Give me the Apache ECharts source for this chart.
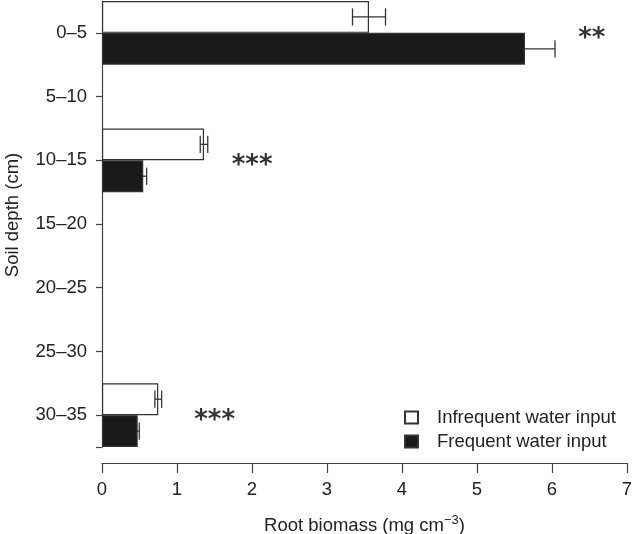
<!DOCTYPE html>
<html>
<head>
<meta charset="utf-8">
<script src="https://cdn.jsdelivr.net/npm/echarts@6/dist/echarts.min.js"></script>
<style>html,body{margin:0;padding:0;background:#fff}#c{width:633px;height:534px}</style>
</head>
<body>
<div id="c"></div>
<script>
var categories = ['0\u20135', '5\u201310', '10\u201315', '15\u201320', '20\u201325', '25\u201330', '30\u201335'];
var infrequent = [3.56, null, 1.36, null, null, null, 0.75];
var infrequentErr = [0.22, null, 0.05, null, null, null, 0.045];
var frequent = [5.64, null, 0.55, null, null, null, 0.476];
var frequentErr = [0.40, null, 0.045, null, null, null, 0.021];
var sigLabels = ['**', null, '***', null, null, null, '***'];
var sigX = [6.35, null, 1.73, null, null, null, 1.23];
var xTicks = [0, 1, 2, 3, 4, 5, 6, 7];

var FONT = 'Liberation Sans';
var FS = 18.5;
var AX = '#444';
var TXT = '#222';

function errData(vals, errs) {
  var out = [];
  vals.forEach(function (v, i) { if (v != null) out.push([v, i, errs[i]]); });
  return out;
}
function errRender(side) {
  return function (params, api) {
    var v = api.value(0), ci = api.value(1), e = api.value(2);
    var band = api.size([0, 1])[1];
    var c = api.coord([v, ci]);
    var y = c[1] + side * band / 4;
    var x1 = api.coord([v - e, ci])[0];
    var x2 = api.coord([v + e, ci])[0];
    var h = band * 0.135;
    var st = { stroke: '#333', lineWidth: 1.3 };
    return { type: 'group', children: [
      { type: 'line', shape: { x1: x1, y1: y, x2: x2, y2: y }, style: st },
      { type: 'line', shape: { x1: x1, y1: y - h, x2: x1, y2: y + h }, style: st },
      { type: 'line', shape: { x1: x2, y1: y - h, x2: x2, y2: y + h }, style: st }
    ]};
  };
}
var sigData = [];
sigLabels.forEach(function (s, i) { if (s) sigData.push({ value: [sigX[i], i], name: s }); });

var chart = echarts.init(document.getElementById('c'), null, { renderer: 'canvas' });
chart.setOption({
  animation: false,
  backgroundColor: '#fff',
  textStyle: { fontFamily: FONT },
  grid: { left: 102, right: 6, top: 1, bottom: 87, containLabel: false, outerBoundsMode: 'none' },
  legend: {
    orient: 'vertical', left: 399, top: 403, itemWidth: 13, itemHeight: 12, itemGap: 5,
    icon: 'rect',
    textStyle: { fontFamily: FONT, fontSize: FS, color: TXT, padding: [0, 0, 0, 14] },
    data: ['Infrequent water input', 'Frequent water input']
  },
  xAxis: {
    type: 'value', min: 0, max: 7, interval: 1, offset: 16,
    axisLine: { show: true, onZero: false, lineStyle: { color: AX, width: 1.2 } },
    axisTick: { show: true, length: 10, lineStyle: { color: AX, width: 1.2 } },
    axisLabel: { fontFamily: FONT, fontSize: FS, color: TXT, margin: 17,
      formatter: function (v) { return xTicks.indexOf(v) >= 0 ? String(v) : ''; } },
    splitLine: { show: false },
    name: 'Root biomass (mg cm{sup|\u22123})', nameLocation: 'middle', nameGap: 51,
    nameTextStyle: { fontFamily: FONT, fontSize: FS, color: TXT,
      rich: { sup: { fontFamily: FONT, fontSize: 13, color: TXT, verticalAlign: 'bottom', padding: [0, 0, 11, 0] } } }
  },
  yAxis: [{
    type: 'category', data: categories, inverse: true, position: 'left',
    axisLine: { show: true, onZero: false, lineStyle: { color: AX, width: 1.2 } },
    axisTick: { show: true, alignWithLabel: true, length: 6, lineStyle: { color: AX, width: 1.2 } },
    axisLabel: { fontFamily: FONT, fontSize: FS, color: TXT, margin: 15 },
    name: 'Soil depth (cm)', nameLocation: 'middle', nameGap: 80,
    nameTextStyle: { fontFamily: FONT, fontSize: FS, color: TXT, padding: [0, 0, 0, 18] }
  }, {
    type: 'value', min: 0, max: 7, inverse: true, position: 'left',
    axisLine: { show: false, onZero: false },
    axisTick: { show: true, length: 6, customValues: [7], lineStyle: { color: AX, width: 1.2 } },
    axisLabel: { show: false },
    splitLine: { show: false }
  }],
  series: [{
    name: 'Infrequent water input', type: 'bar', data: infrequent,
    barGap: '0%', barCategoryGap: '0%', z: 2,
    itemStyle: { color: '#fff', borderColor: '#333', borderWidth: 1.2 }
  }, {
    name: 'Frequent water input', type: 'bar', data: frequent,
    barGap: '0%', barCategoryGap: '0%', z: 2,
    itemStyle: { color: '#1a1a1a', borderColor: '#333', borderWidth: 1.2 }
  }, {
    type: 'custom', renderItem: errRender(-1), data: errData(infrequent, infrequentErr), z: 5, silent: true
  }, {
    type: 'custom', renderItem: errRender(1), data: errData(frequent, frequentErr), z: 1, silent: true
  }, {
    type: 'scatter', data: sigData, symbolSize: 0, silent: true, z: 6,
    label: { show: true, position: 'right', distance: 0, formatter: '{b}',
      fontFamily: 'DejaVu Sans', fontSize: 26, fontWeight: 'bold', color: '#000', offset: [0, 6] }
  }]
});
</script>
</body>
</html>
